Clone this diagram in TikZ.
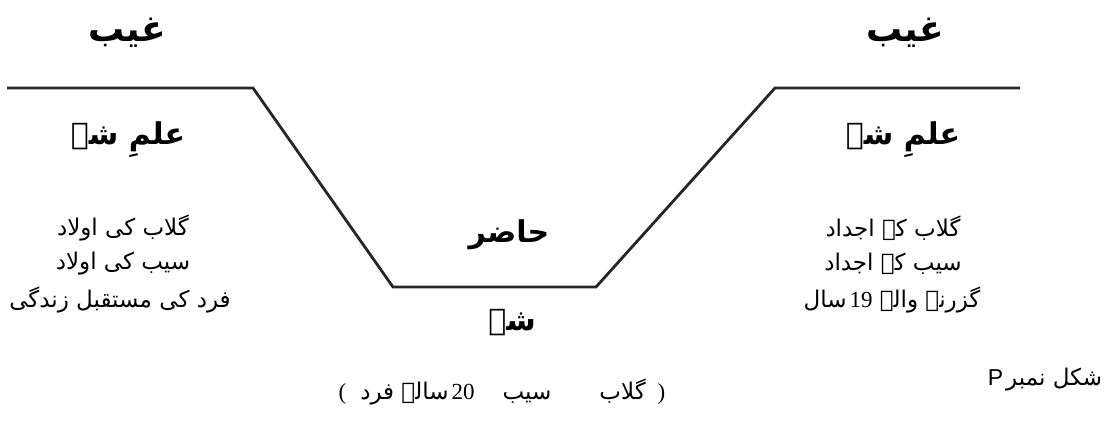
\documentclass[tikz,border=0pt]{standalone}
\usepackage{fontspec}
\setmainfont{Liberation Serif}
\newfontfamily\urdu[Script=Arabic]{DejaVu Sans}
\newfontfamily\latinsans{Liberation Sans}
\TeXXeTstate=1
\tikzset{
  x=1pt, y=-1pt,
  hugelbl/.style={font=\urdu\bfseries\fontsize{36}{42}\selectfont, inner sep=0pt},
  biglbl/.style={font=\urdu\bfseries\fontsize{30}{36}\selectfont, inner sep=0pt},
  lstlbl/.style={font=\urdu\fontsize{23}{28}\selectfont, inner sep=0pt},
  figlbl/.style={font=\urdu\fontsize{23}{28}\selectfont, inner sep=0pt},
  profile/.style={line width=2.8pt, draw=black!85, line join=miter}
}
\begin{document}
\begin{tikzpicture}
\useasboundingbox (0,0) rectangle (1112,430);
% profile line
\coordinate (p1) at (7,88);
\coordinate (p2) at (253,88);
\coordinate (p3) at (393,287);
\coordinate (p4) at (596,287);
\coordinate (p5) at (775,88);
\coordinate (p6) at (1020,88);
\draw[profile] (p1) -- (p2) -- (p3) -- (p4) -- (p5) -- (p6);

% left side
\node[hugelbl] (gL) at (127,33) {\beginR غیب\endR};
\node[biglbl] (iL) at (128,140) {\beginR علمِ شے\endR};
\node[lstlbl] (l1) at (123,228) {\beginR گلاب کی اولاد\endR};
\node[lstlbl] (l2) at (123,264) {\beginR سیب کی اولاد\endR};
\node[lstlbl] (l3) at (120,300) {\beginR فرد کی مستقبل زندگی\endR};

% right side
\node[hugelbl] (gR) at (905,33) {\beginR غیب\endR};
\node[biglbl] (iR) at (903,140) {\beginR علمِ شے\endR};
\node[lstlbl] (r1) at (893,228) {\beginR گلاب کے اجداد\endR};
\node[lstlbl] (r2) at (893,264) {\beginR سیب کے اجداد\endR};
\node[lstlbl] (r3) at (892,300) {\beginR گزرنے والے \beginL{\rmfamily 19}\endL\hspace{3pt}سال\endR};

% middle
\node[biglbl] (hz) at (509,235) {\beginR حاضر\endR};
\node[biglbl] (sh) at (512,323) {\beginR شے\endR};
\node[lstlbl] (bt) at (502,392) {{\rmfamily (}\hspace{14pt}\beginR گلاب\hspace{48pt}سیب\hspace{28pt}\beginL{\rmfamily 20}\endL\hspace{3pt}سالہ فرد\endR\hspace{12pt}{\rmfamily )}};

% figure label
\node[figlbl] (fig) at (1045,380) {{\latinsans P}\hspace{3pt}\beginR شکل نمبر\endR};
\end{tikzpicture}
\end{document}
